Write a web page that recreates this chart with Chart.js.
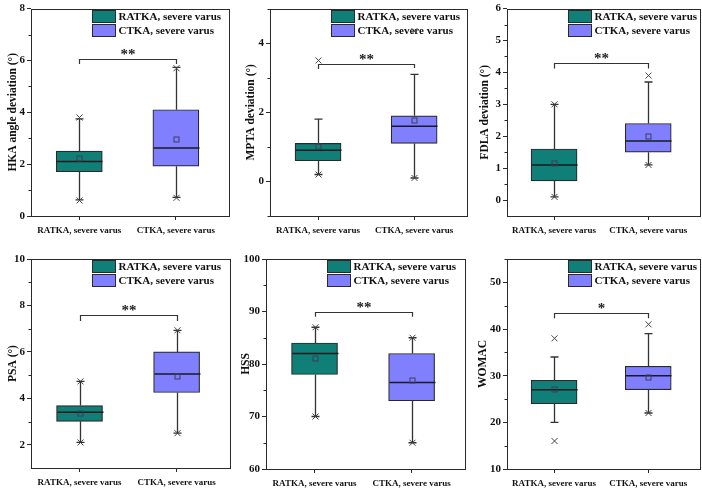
<!DOCTYPE html>
<html><head><meta charset="utf-8">
<script src="https://cdn.jsdelivr.net/npm/chart.js@4.4.0/dist/chart.umd.min.js"></script>
<style>
html,body{margin:0;padding:0;background:#fff;}
#wrap{position:relative;width:702px;height:490px;overflow:hidden;background:#fff;}
#wrap canvas{position:absolute;}
</style></head><body><div id="wrap"></div>
<script>
// ---------- DATA ----------
const groups = ['RATKA, severe varus', 'CTKA, severe varus'];
const yTitles = ['HKA angle deviation (°)', 'MPTA deviation (°)', 'FDLA deviation (°)', 'PSA (°)', 'HSS', 'WOMAC'];
// each entry: [RATKA, CTKA]
const whiskerLow  = [[0.62, 0.72], [0.2, 0.1], [0.1, 1.1], [2.1, 2.5], [70, 65], [20, 22]];
const q1          = [[1.71, 1.92], [0.6, 1.1], [0.6, 1.5], [3.01, 4.25], [78, 73], [24, 27]];
const median      = [[2.1, 2.62], [0.9, 1.6], [1.1, 1.85], [3.4, 5.05], [82, 76.5], [27, 30]];
const q3          = [[2.5, 4.1], [1.1, 1.9], [1.6, 2.4], [3.69, 6.0], [84, 82], [29, 32]];
const whiskerHigh = [[3.75, 5.73], [1.8, 3.1], [3.0, 3.7], [4.73, 6.93], [87, 85], [34, 39]];
const mean        = [[2.22, 2.97], [1.03, 1.77], [1.15, 2.0], [3.36, 4.98], [81.1, 76.9], [27.2, 29.8]];
const minMark     = [[0.6, 0.7], [0.2, 0.1], [0.1, 1.1], [2.1, 2.5], [70, 65], [16, 22]];
const maxMark     = [[3.8, 5.7], [3.5, 4.35], [3.0, 3.9], [4.73, 6.93], [87, 85], [38, 41]];
const bracketLevel = [6.07, 3.4, 4.3, 7.6, 90, 43.4];
const bracketDrop  = [[5.86, 5.86], [3.25, 3.28], [4.12, 4.12], [7.33, 7.33], [89, 89], [42.3, 42.3]];
const significance = ['**', '**', '**', '**', '**', '*'];
const yMin = [0, -1, -0.5, 1, 60, 10];
const yMax = [8, 5, 6, 10, 100, 55];
const yMajorTicks = [[0, 2, 4, 6, 8], [0, 2, 4], [0, 1, 2, 3, 4, 5, 6], [2, 4, 6, 8, 10], [60, 70, 80, 90, 100], [10, 20, 30, 40, 50]];
const yMinorTicks = [[1, 3, 5, 7], [-1, 1, 3, 5], [0.5, 1.5, 2.5, 3.5, 4.5, 5.5], [3, 5, 7, 9], [65, 75, 85, 95], [15, 25, 35, 45, 55]];

// ---------- LAYOUT / STYLE ----------
const cells = [
  {x: 0,   y: 0,   w: 234, h: 245, pl: 6,  pr: 5, pt: 6,  yw: 25, xh: 29},
  {x: 234, y: 0,   w: 234, h: 245, pl: 10, pr: 1, pt: 6,  yw: 26, xh: 29},
  {x: 468, y: 0,   w: 234, h: 245, pl: 10, pr: 2, pt: 6,  yw: 29, xh: 29},
  {x: 0,   y: 245, w: 234, h: 245, pl: 6,  pr: 4, pt: 14, yw: 25, xh: 22},
  {x: 234, y: 245, w: 234, h: 245, pl: 5,  pr: 3, pt: 14, yw: 27, xh: 21},
  {x: 468, y: 245, w: 234, h: 245, pl: 8,  pr: 2, pt: 14, yw: 31, xh: 21}
];
const colors = ['#0f7f78', '#8080ff'];
const LINE = '#2a2a2a';
const SERIF = "'Liberation Serif','Times New Roman',serif";
const BOXW = 46;

function boxPlugin(p) {
  return {
    id: 'boxExtras' + p,
    afterDraw(chart) {
      const ctx = chart.ctx, xs = chart.scales.x, ys = chart.scales.y, a = chart.chartArea;
      ctx.save();
      ctx.strokeStyle = LINE;
      ctx.lineWidth = 1;
      // minor ticks
      yMinorTicks[p].forEach(v => {
        const y = Math.round(ys.getPixelForValue(v)) + 0.5;
        ctx.beginPath(); ctx.moveTo(a.left - 2.5, y); ctx.lineTo(a.left, y); ctx.stroke();
      });
      // frame
      ctx.strokeRect(Math.round(a.left) + 0.5, Math.round(a.top) + 0.5, Math.round(a.right - a.left), Math.round(a.bottom - a.top));
      // legend
      ctx.font = 'bold 11px ' + SERIF;
      ctx.textBaseline = 'middle';
      ctx.textAlign = 'left';
      for (let i = 0; i < 2; i++) {
        const rx = Math.round(a.left + 61) + 0.5, ry = Math.round(a.top + 1 + i * 14) + 0.5;
        ctx.fillStyle = colors[i];
        ctx.fillRect(rx, ry, 23, 12);
        ctx.strokeStyle = LINE; ctx.lineWidth = 1;
        ctx.strokeRect(rx, ry, 23, 12);
        ctx.fillStyle = '#111';
        ctx.fillText(groups[i], rx + 26, ry + 6.5);
      }
      // box extras
      for (let i = 0; i < 2; i++) {
        const x = Math.round(xs.getPixelForValue(i + 1)) + 0.5;
        const yq1 = ys.getPixelForValue(q1[p][i]), yq3 = ys.getPixelForValue(q3[p][i]);
        const ylo = ys.getPixelForValue(whiskerLow[p][i]), yhi = ys.getPixelForValue(whiskerHigh[p][i]);
        ctx.strokeStyle = '#333'; ctx.lineWidth = 1.3;
        ctx.beginPath();
        ctx.moveTo(x, yq1); ctx.lineTo(x, ylo);
        ctx.moveTo(x, yq3); ctx.lineTo(x, yhi);
        ctx.moveTo(x - 4, ylo); ctx.lineTo(x + 4, ylo);
        ctx.moveTo(x - 4, yhi); ctx.lineTo(x + 4, yhi);
        ctx.stroke();
        // median
        const ym = ys.getPixelForValue(median[p][i]);
        ctx.strokeStyle = '#1a1a1a'; ctx.lineWidth = 1.5;
        ctx.beginPath(); ctx.moveTo(x - BOXW / 2, ym); ctx.lineTo(x + BOXW / 2, ym); ctx.stroke();
        // mean
        const yme = ys.getPixelForValue(mean[p][i]);
        ctx.strokeStyle = '#3c3c5a'; ctx.lineWidth = 1;
        ctx.strokeRect(x - 2.5, Math.round(yme) - 2, 5, 5);
        // min / max markers
        ctx.strokeStyle = '#444'; ctx.lineWidth = 1;
        [minMark[p][i], maxMark[p][i]].forEach(v => {
          const y = ys.getPixelForValue(v);
          ctx.beginPath();
          ctx.moveTo(x - 3, y - 3); ctx.lineTo(x + 3, y + 3);
          ctx.moveTo(x - 3, y + 3); ctx.lineTo(x + 3, y - 3);
          ctx.stroke();
        });
      }
      // significance bracket
      const x1 = Math.round(xs.getPixelForValue(1)) + 0.5, x2 = Math.round(xs.getPixelForValue(2)) + 0.5;
      const yb = Math.round(ys.getPixelForValue(bracketLevel[p])) + 0.5;
      ctx.strokeStyle = '#333'; ctx.lineWidth = 1.2;
      ctx.beginPath();
      ctx.moveTo(x1, ys.getPixelForValue(bracketDrop[p][0]));
      ctx.lineTo(x1, yb); ctx.lineTo(x2, yb);
      ctx.lineTo(x2, ys.getPixelForValue(bracketDrop[p][1]));
      ctx.stroke();
      ctx.fillStyle = '#222';
      ctx.font = 'bold 15px ' + SERIF;
      ctx.textAlign = 'center';
      ctx.textBaseline = 'alphabetic';
      ctx.fillText(significance[p], (x1 + x2) / 2, yb - 1);
      ctx.restore();
    }
  };
}

const wrap = document.getElementById('wrap');
cells.forEach((c, p) => {
  const cv = document.createElement('canvas');
  cv.width = c.w; cv.height = c.h;
  cv.style.left = c.x + 'px'; cv.style.top = c.y + 'px';
  cv.style.width = c.w + 'px'; cv.style.height = c.h + 'px';
  wrap.appendChild(cv);
  new Chart(cv, {
    type: 'bar',
    data: {
      datasets: [{
        data: groups.map((g, i) => ({x: i + 1, y: [q1[p][i], q3[p][i]]})),
        backgroundColor: colors,
        borderColor: LINE,
        borderWidth: 1.2,
        borderSkipped: false,
        barThickness: BOXW
      }]
    },
    options: {
      responsive: false,
      animation: false,
      devicePixelRatio: 1,
      layout: {padding: {left: c.pl, right: c.pr, top: c.pt, bottom: 0}},
      plugins: {legend: {display: false}, tooltip: {enabled: false}},
      scales: {
        x: {
          type: 'linear', min: 0.5, max: 2.55, offset: false,
          afterBuildTicks: s => { s.ticks = [{value: 1}, {value: 2}]; },
          afterFit: s => { s.height = c.xh; },
          grid: {display: true, drawOnChartArea: false, drawTicks: true, tickLength: 4, color: LINE, offset: false},
          border: {display: false},
          ticks: {
            autoSkip: false, maxRotation: 0, padding: 5, color: '#111',
            font: {family: SERIF, size: 9, weight: 'bold'},
            callback: v => groups[v - 1] || ''
          }
        },
        y: {
          min: yMin[p], max: yMax[p],
          afterBuildTicks: s => { s.ticks = yMajorTicks[p].map(v => ({value: v})); },
          afterFit: s => { s.width = c.yw; },
          grid: {display: true, drawOnChartArea: false, drawTicks: true, tickLength: 4, color: LINE},
          border: {display: false},
          ticks: {padding: 2, color: '#111', font: {family: SERIF, size: 11, weight: 'bold'}},
          title: {display: true, text: yTitles[p], color: '#111', padding: {top: 0, bottom: 0},
                  font: {family: SERIF, size: 11.5, weight: 'bold'}}
        }
      }
    },
    plugins: [boxPlugin(p)]
  });
});
</script></body></html>
